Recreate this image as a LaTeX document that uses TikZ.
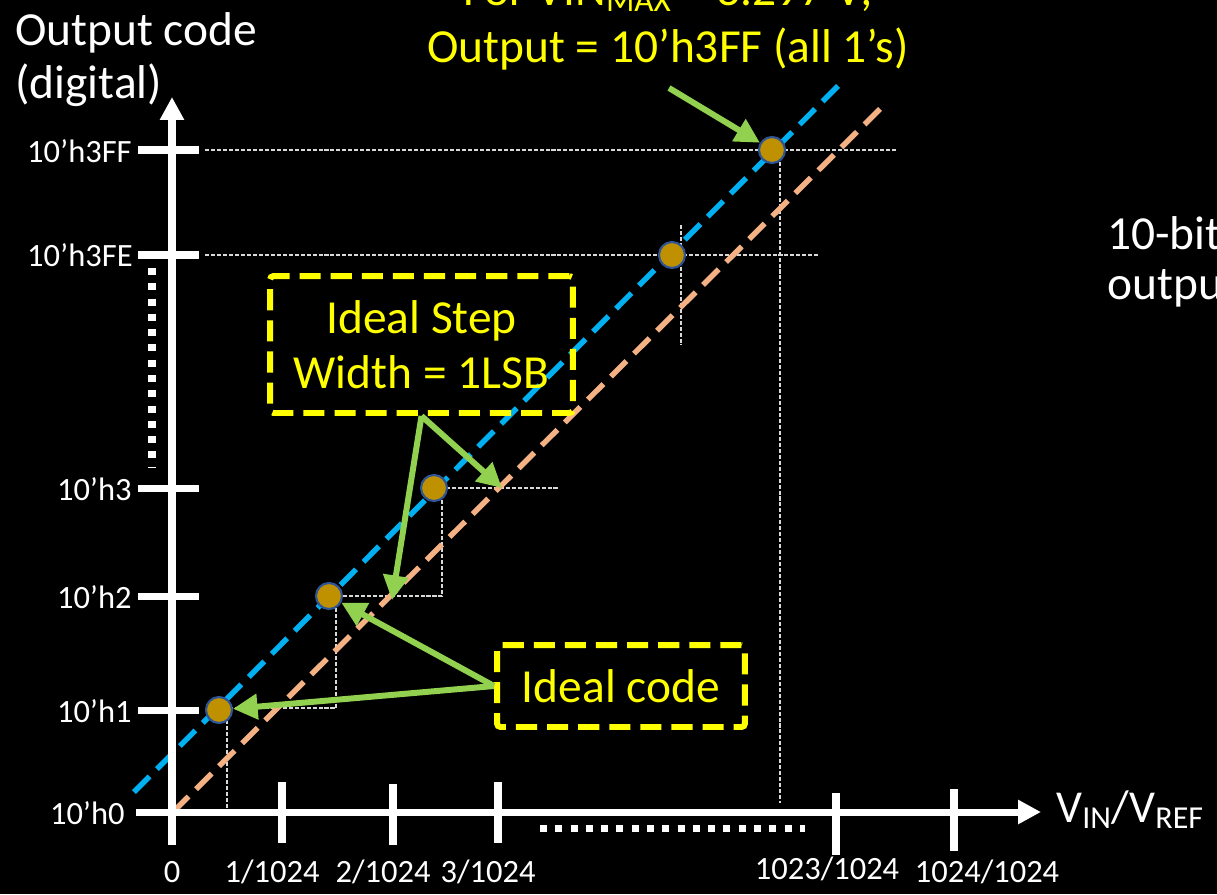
\documentclass[tikz,border=0pt]{standalone}
\usepackage{fontspec}
\setmainfont{Carlito}
\usetikzlibrary{arrows.meta}

\definecolor{lineblue}{HTML}{00B0F0}
\definecolor{lineorange}{HTML}{F4B183}
\definecolor{callgreen}{HTML}{92D050}
\definecolor{dotfill}{HTML}{BF9000}
\definecolor{dotedge}{HTML}{2F5597}
\definecolor{noteyellow}{HTML}{FFFF00}

\tikzset{
	axisline/.style={white,line width=4pt,-{Triangle[length=13pt,width=13pt]}},
	tickmark/.style={white,line width=4pt},
	guide/.style={white!85!black,line width=0.6pt,dash pattern=on 2.3pt off 1.1pt},
	dotrow/.style={white,line width=4pt,dash pattern=on 4pt off 4.7pt},
	transfer/.style={line width=3.1pt,dash pattern=on 12.5pt off 6pt},
	codedot/.style={circle,inner sep=0pt,minimum size=0.52cm,fill=dotfill,draw=dotedge,line width=1.2pt},
	notebox/.style={draw=noteyellow,text=noteyellow,line width=3.4pt,dash pattern=on 12pt off 5.7pt,
		rounded corners=2pt,font=\fontsize{27}{31}\selectfont,align=center,inner sep=0pt},
	callout/.style={callgreen,line width=3.4pt,-{Triangle[length=14pt,width=14pt]}},
	ylab/.style={white,anchor=east,inner sep=0pt,font=\fontsize{18.5}{21}\selectfont},
	xlab/.style={white,anchor=base,inner sep=0pt,font=\fontsize{18.5}{21}\selectfont},
	biglab/.style={white,inner sep=0pt,font=\fontsize{27}{31}\selectfont},
	yellowlab/.style={noteyellow,anchor=base,inner sep=0pt,font=\fontsize{27}{31}\selectfont}
}

\begin{document}
\begin{tikzpicture}[x=0.02cm,y=-0.02cm]

	\useasboundingbox (0,0) rectangle (1217,894);
	\fill[black] (0,0) rectangle (1217,894);

	% guide lines for the codes

	\draw[guide] (205,150) -- (897,150);
	\draw[guide] (780,150) -- (780,803);
	\draw[guide] (205,255) -- (818,255);
	\draw[guide] (681,225) -- (681,345);
	\draw[guide] (434,488) -- (558,488);
	\draw[guide] (442,488) -- (442,596) -- (329,596);
	\draw[guide] (336,596) -- (336,708) -- (219,708);
	\draw[guide] (227,708) -- (227,808);

	% ideal and shifted transfer lines

	\draw[transfer,lineblue] (134,792) -- (841,83);
	\draw[transfer,lineorange] (173,812) -- (886,103);

	% draw axes

	\draw[axisline] (172,845) -- (172,97);
	\draw[axisline] (136,812) -- (1041,812);

	% ticks on the code axis

	\draw[tickmark] (138,150) -- (199,150);
	\draw[tickmark] (138,255) -- (199,255);
	\draw[tickmark] (138,488) -- (199,488);
	\draw[tickmark] (138,596) -- (199,596);
	\draw[tickmark] (138,710) -- (199,710);
	\node[ylab] (c3FF) at (132,151) {10'h3FF};
	\node[ylab] (c3FE) at (133,255) {10'h3FE};
	\node[ylab] (c3) at (132,489) {10'h3};
	\node[ylab] (c2) at (132,597) {10'h2};
	\node[ylab] (c1) at (132,711) {10'h1};
	\node[ylab] (c0) at (125,813) {10'h0};
	\draw[dotrow] (152,268) -- (152,468);

	% ticks on the input axis

	\draw[tickmark] (282,782) -- (282,843);
	\draw[tickmark] (393,784) -- (393,845);
	\draw[tickmark] (498,782) -- (498,843);
	\draw[tickmark] (836,793) -- (836,855);
	\draw[tickmark] (954,789) -- (954,851);
	\node[xlab] (v0) at (172,882) {0};
	\node[xlab] (v1) at (272,882) {1/1024};
	\node[xlab] (v2) at (383,882) {2/1024};
	\node[xlab] (v3) at (488,882) {3/1024};
	\node[xlab] (v1023) at (827,879) {1023/1024};
	\node[xlab] (v1024) at (987,882) {1024/1024};
	\draw[dotrow] (540,828) -- (805,828);

	% axis labels

	\node[biglab,anchor=base west] (ylabel) at (15,45) {Output code};
	\node[biglab,anchor=base west] (ylabel2) at (15,98) {(digital)};
	\node[biglab,anchor=base west,font=\fontsize{26}{31}\selectfont] (xlabel) at (1056,822) {V\textsubscript{IN}/V\textsubscript{REF}};
	\node[biglab,anchor=base west] (bits) at (1107,249) {10-bit};
	\node[biglab,anchor=base west] (bits2) at (1107,299) {output};

	% ideal codes

	\node[codedot] (d1) at (219,710) {};
	\node[codedot] (d2) at (329,596) {};
	\node[codedot] (d3) at (434,488) {};
	\node[codedot] (d3FE) at (672,255) {};
	\node[codedot] (d3FF) at (772,150) {};

	% notes and callouts

	\node[yellowlab] (vmax) at (668,5) {For VIN\textsubscript{MAX} = 3.297 V;};
	\node[yellowlab] (vmax2) at (668,62) {Output = 10'h3FF (all 1's)};
	\node[notebox,minimum width=6.06cm,minimum height=2.74cm] (stepbox) at (421.5,344.5) {Ideal Step\\Width = 1LSB};
	\node[notebox,minimum width=4.96cm,minimum height=1.64cm] (codebox) at (621,686) {Ideal code};

	\coordinate (topnote) at (669,88);
	\coordinate (step3) at (502,488);
	\coordinate (step2) at (392,600);

	\draw[callout] (topnote) -- (d3FF);
	\draw[callout] (stepbox.south) -- (step3);
	\draw[callout] (stepbox.south) -- (step2);
	\draw[callout] (codebox.west) -- (d2);
	\draw[callout] (codebox.west) -- (d1);

\end{tikzpicture}
\end{document}
